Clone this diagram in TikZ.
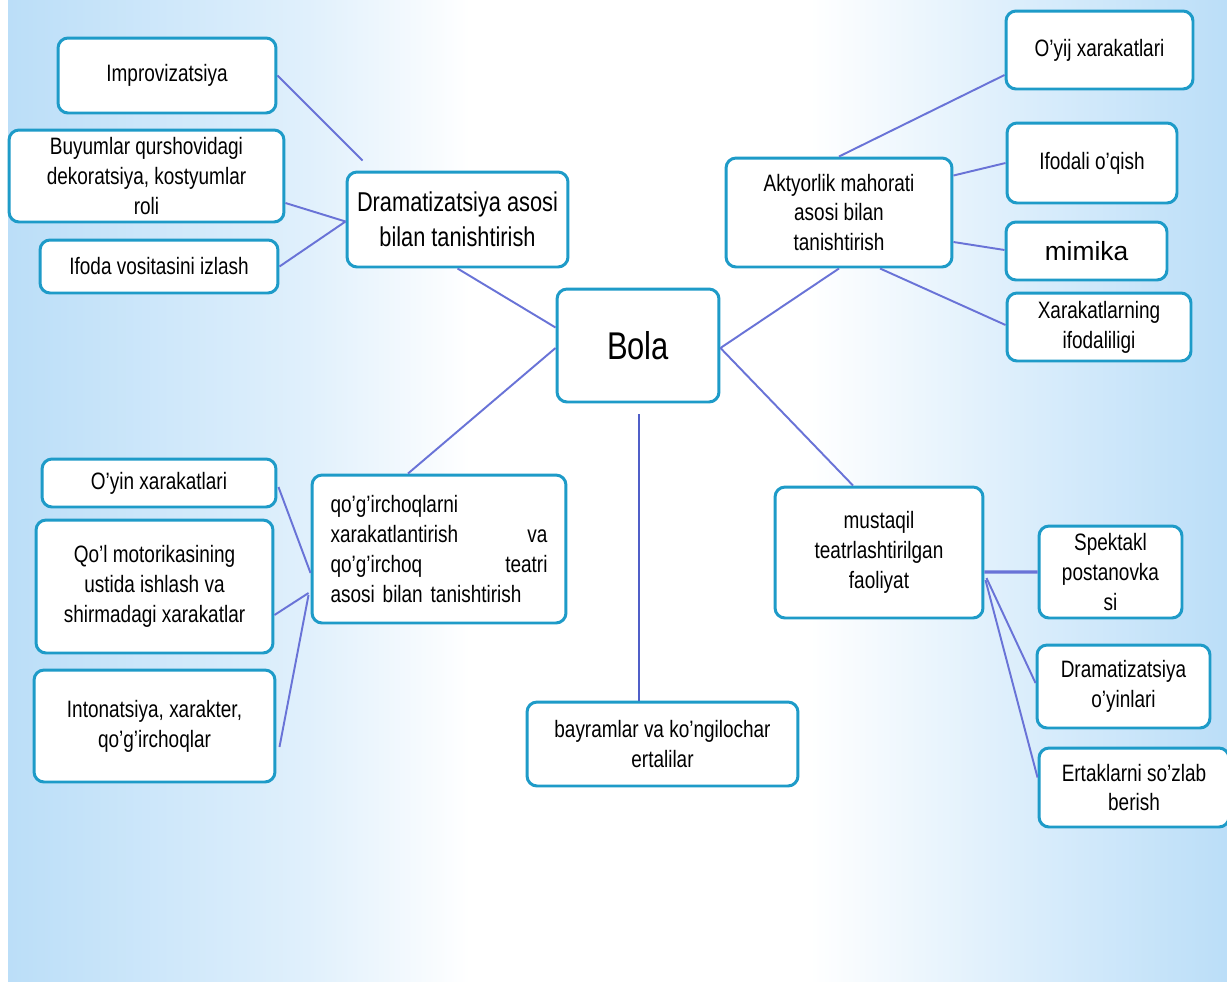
\documentclass[tikz,border=0pt]{standalone}
\usepackage{fontspec}
\setmainfont[FakeStretch=0.8]{Liberation Sans}
\newfontfamily\plainsans{Liberation Sans}
\definecolor{bgblue}{RGB}{187,222,248}
\definecolor{boxblue}{RGB}{30,155,200}
\definecolor{linkblue}{RGB}{105,115,215}
\definecolor{stemblue}{RGB}{80,95,200}
\begin{document}
\begin{tikzpicture}[x=0.02cm, y=-0.02cm,
  box/.style 2 args={draw=boxblue, line width=1.7pt, rounded corners=2mm, fill=white,
    minimum width=#1mm, minimum height=#2mm, inner sep=0pt, align=center,
    font=\fontsize{13.5}{17}\selectfont},
  link/.style={draw=linkblue, line width=1.1pt}]
% background
\fill[white] (0,0) rectangle (1227,981);
\shade[left color=bgblue, right color=bgblue!45!white] (8,0) rectangle (310,981);
\shade[left color=bgblue!45!white, right color=white] (310,0) rectangle (470,981);
\shade[left color=white, right color=bgblue!50!white] (810,0) rectangle (1010,981);
\shade[left color=bgblue!50!white, right color=bgblue] (1010,0) rectangle (1227,981);
\useasboundingbox (0,0) rectangle (1227,981);
% centre
\node[box={32.4}{22.6}, font=\fontsize{22}{26}\selectfont] (bola) at (638,345.5){Bola};
% upper left
\node[box={44.2}{19}, font=\fontsize{15.5}{20}\selectfont] (dram) at (457.5,219.5){Dramatizatsiya asosi\\bilan tanishtirish};
\node[box={43.6}{15}] (dram1) at (167,75.5){Improvizatsiya};
\node[box={55}{18.4}] (dram2) at (146.5,176){Buyumlar qurshovidagi\\dekoratsiya, kostyumlar\\roli};
\node[box={47.6}{10.6}] (dram3) at (159,266.5){Ifoda vositasini izlash};
\draw[link](dram1.east) -- ([shift={(17,-10)}]dram.north west);
\draw[link]([shift={(0,27)}]dram2.east) -- ([shift={(0,2)}]dram.west);
\draw[link](dram3.east) -- ([shift={(0,2)}]dram.west);
\draw[link](dram.south) -- ([shift={(0,-18)}]bola.west);
% upper right
\node[box={45.2}{21.8}] (akt) at (839,212.5){Aktyorlik mahorati\\asosi bilan\\tanishtirish};
\node[box={37.4}{15.6}] (akt1) at (1099.5,50){O'yij xarakatlari};
\node[box={34}{16}] (akt2) at (1092,163){Ifodali o'qish};
\node[box={32.2}{11.6}, font=\plainsans\fontsize{15}{18}\selectfont] (akt3) at (1086.5,251){mimika};
\node[box={36.8}{13.6}] (akt4) at (1099,327){Xarakatlarning\\ifodaliligi};
\draw[link](akt.north) -- ([shift={(0,25)}]akt1.west);
\draw[link]([shift={(0,-37)}]akt.east) -- (akt2.west);
\draw[link]([shift={(0,29.5)}]akt.east) -- ([shift={(0,-1)}]akt3.west);
\draw[link]([shift={(41,0)}]akt.south) -- ([shift={(0,-2)}]akt4.west);
\draw[link]([shift={(0,2.5)}]bola.east) -- (akt.south);
% lower left
\node[box={50.8}{29.6}, text width=43.4mm, align=left] (qog) at (439,549){qo'g'irchoqlarni\\
  \makebox[43.4mm][s]{xarakatlantirish\hfill va}\\
  \makebox[43.4mm][s]{qo'g'irchoq\hfill teatri}\\
  asosi bilan tanishtirish};
\node[box={46.8}{9.6}] (qog1) at (159,483){O'yin xarakatlari};
\node[box={47.4}{26.6}] (qog2) at (154.5,586.5){Qo'l motorikasining\\ustida ishlash va\\shirmadagi xarakatlar};
\node[box={48.2}{22.4}] (qog3) at (154.5,726){Intonatsiya, xarakter,\\qo'g'irchoqlar};
\draw[link]([shift={(1,4)}]qog1.east) -- ([shift={(0,24)}]qog.west);
\draw[link]([shift={(0,28.5)}]qog2.east) -- ([shift={(-2,44)}]qog.west);
\draw[link]([shift={(3,21)}]qog3.east) -- ([shift={(-2,46)}]qog.west);
\draw[link]([shift={(0,2.5)}]bola.west) -- ([shift={(-31,0)}]qog.north);
% bottom
\node[box={54.2}{16.8}] (bay) at (662.5,744){bayramlar va ko'ngilochar\\ertalilar};
\draw[draw=stemblue, line width=1.6pt]([shift={(1,11)}]bola.south) -- ([shift={(-23.5,0)}]bay.north);
% lower right
\node[box={41.6}{26.2}] (must) at (879,552.5){mustaqil\\teatrlashtirilgan\\faoliyat};
\node[box={28.6}{18.4}] (must1) at (1110.5,572){Spektakl\\postanovka\\si};
\node[box={34.6}{16.6}] (must2) at (1123.5,686.5){Dramatizatsiya\\o'yinlari};
\node[box={38}{15.8}] (must3) at (1134,787.5){Ertaklarni so'zlab\\berish};
\draw[link]([shift={(0,2.5)}]bola.east) -- ([shift={(-26,0)}]must.north);
\draw[link, line width=1.8pt]([shift={(0,19.5)}]must.east) -- (must1.west);
\draw[link]([shift={(2,25.5)}]must.east) -- ([shift={(0,-3.5)}]must2.west);
\draw[link]([shift={(1,27.5)}]must.east) -- ([shift={(0,-10)}]must3.west);
\end{tikzpicture}
\end{document}
